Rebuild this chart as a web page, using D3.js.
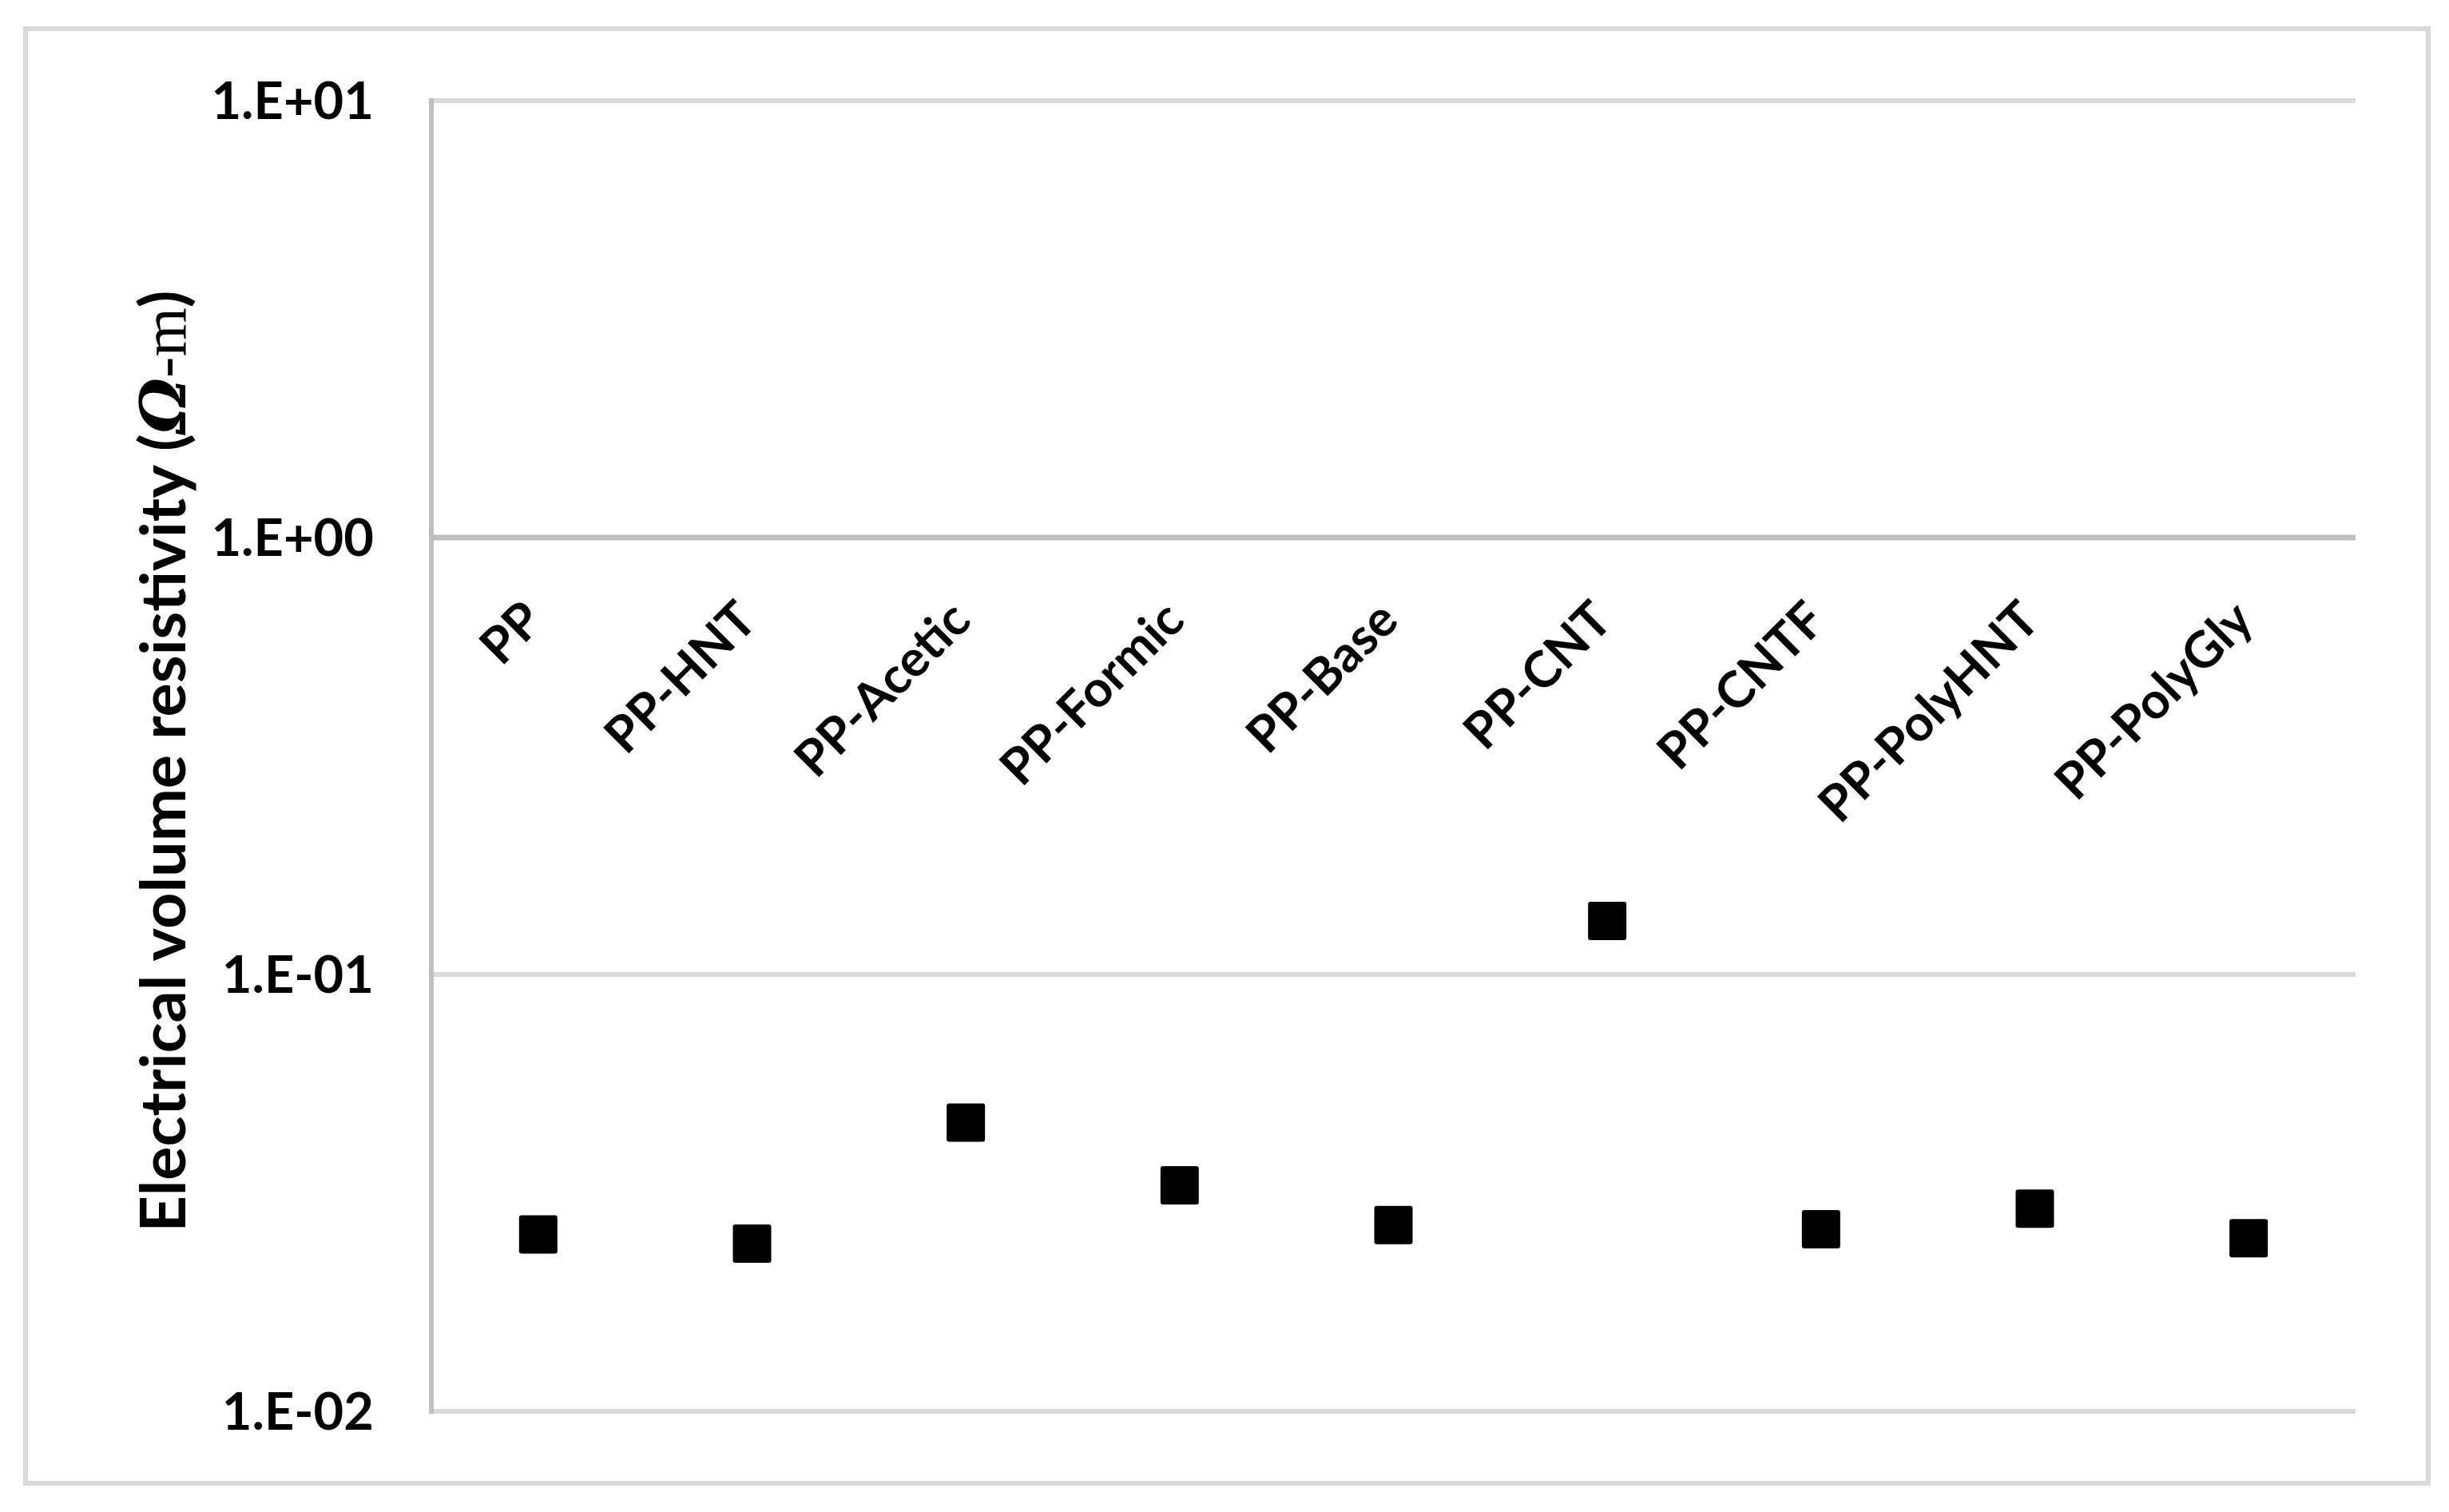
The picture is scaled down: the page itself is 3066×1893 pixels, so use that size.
<!DOCTYPE html>
<html>
<head>
<meta charset="utf-8">
<script src="https://cdn.jsdelivr.net/npm/d3@7"></script>
<style>
  html, body { margin: 0; padding: 0; background: #fff; }
  svg { display: block; }
  .lbl { font-family: Lato, 'Open Sans', sans-serif; font-weight: 700; fill: #000; }
</style>
</head>
<body>
<svg id="chart" width="3066" height="1893"></svg>
<script>
const categories = ['PP', 'PP-HNT', 'PP-Acetic', 'PP-Formic', 'PP-Base', 'PP-CNT', 'PP-CNTF', 'PP-PolyHNT', 'PP-PolyGly'];
const resistivity = [0.0254, 0.0242, 0.0458, 0.0329, 0.0267, 0.1326, 0.0261, 0.0291, 0.0249];
const yTicks = [0.01, 0.1, 1, 10];
const yTickLabels = ['1.E-02', '1.E-01', '1.E+00', '1.E+01'];

const plot = { left: 540, right: 2949, top: 126, bottom: 1767 };

const svg = d3.select('#chart');

// outer chart border
svg.append('rect')
  .attr('x', 32).attr('y', 36)
  .attr('width', 3040 - 32).attr('height', 1857 - 36)
  .attr('fill', '#fff')
  .attr('stroke', '#d9d9d9')
  .attr('stroke-width', 6);

const x = d3.scaleBand().domain(categories).range([plot.left, plot.right]);
const y = d3.scaleLog().domain([0.01, 10]).range([plot.bottom, plot.top]);

// gridlines; the category axis crosses at 1
svg.append('g')
  .selectAll('line')
  .data(yTicks)
  .join('line')
  .attr('x1', plot.left).attr('x2', plot.right)
  .attr('y1', d => y(d)).attr('y2', d => y(d))
  .attr('stroke', d => d === 1 ? '#bfbfbf' : '#d9d9d9')
  .attr('stroke-width', d => d === 1 ? 7 : 6);

// value axis line
svg.append('line')
  .attr('x1', plot.left).attr('x2', plot.left)
  .attr('y1', plot.top - 3).attr('y2', plot.bottom + 3)
  .attr('stroke', '#bfbfbf')
  .attr('stroke-width', 6);

// value axis labels
const yAxis = svg.append('g')
  .attr('transform', `translate(${plot.left},0)`)
  .call(d3.axisLeft(y)
    .tickValues(yTicks)
    .tickFormat(d => yTickLabels[yTicks.indexOf(d)])
    .tickSize(0)
    .tickPadding(72));
yAxis.select('.domain').remove();
yAxis.selectAll('text')
  .attr('class', 'lbl')
  .attr('font-size', 65)
  .attr('dy', '0.35em');

// category labels, rotated, hanging under the axis at 1
svg.append('g')
  .selectAll('text')
  .data(categories)
  .join('text')
  .attr('class', 'lbl')
  .attr('font-size', 63)
  .attr('text-anchor', 'end')
  .attr('transform', d => `translate(${x(d) + x.bandwidth() / 2 + 9},${y(1) + 107}) rotate(-45)`)
  .text(d => d);

// markers
const size = 48;
svg.append('g')
  .selectAll('rect')
  .data(categories.map((c, i) => ({ c, v: resistivity[i] })))
  .join('rect')
  .attr('x', d => x(d.c) + x.bandwidth() / 2 - size / 2)
  .attr('y', d => y(d.v) - size / 2)
  .attr('width', size).attr('height', size)
  .attr('rx', 3)
  .attr('fill', '#000');

// axis title
const title = svg.append('text')
  .attr('class', 'lbl')
  .attr('font-size', 79)
  .attr('text-anchor', 'middle')
  .attr('transform', 'translate(232,953) rotate(-90)');
title.append('tspan').text('Electrical volume resistivity (');
title.append('tspan')
  .attr('font-family', "'DejaVu Serif', serif")
  .attr('font-style', 'italic')
  .attr('font-weight', 700)
  .text('Ω');
title.append('tspan')
  .attr('font-family', "'Liberation Serif', serif")
  .attr('font-weight', 400)
  .text('-m');
title.append('tspan').text(')');
</script>
</body>
</html>
